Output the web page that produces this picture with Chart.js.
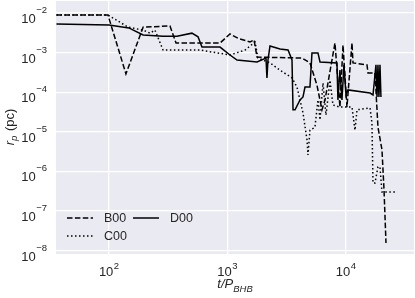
<!DOCTYPE html>
<html>
<head>
<meta charset="utf-8">
<script src="https://cdn.jsdelivr.net/npm/chart.js@4"></script>
<style>
  html, body { margin: 0; padding: 0; background: #fff; }
  #wrap { width: 415px; height: 298px; }
</style>
</head>
<body>
<div id="wrap"><canvas id="rpChart" width="415" height="298"></canvas></div>
<script>
// values (t / P_BHB, r_p in pc)
const b00T = [36, 98, 139, 194, 327, 368, 865, 1050, 1227, 1549, 1675, 1775, 4254, 4966, 5690, 6272, 6653, 8072, 8892, 9438, 10190, 11240, 11460, 15040, 15340, 17570, 18620, 20130, 20940, 21760];
const b00R = [8.9e-3, 8.9e-3, 2.9e-4, 4.4e-3, 4.7e-3, 1.75e-3, 1.75e-3, 2.95e-3, 2.3e-3, 1.85e-3, 2.1e-3, 7.7e-4, 7.3e-4, 5.5e-4, 1.5e-4, 3.6e-5, 6.4e-5, 1.75e-3, 4.2e-5, 1.55e-3, 4.2e-5, 1.75e-3, 5.5e-4, 4.9e-4, 3.05e-4, 3.05e-4, 1.3e-5, 3.5e-6, 3.4e-7, 1.56e-8];

const c00T = [36, 98, 145, 194, 222, 244, 286, 586, 1050, 1406, 1707, 1808, 2284, 2774, 3503, 3858, 4338, 4690, 4778, 4966, 5470, 5803, 6037, 6397, 6778, 7328, 7762, 8892, 10390, 11240, 11910, 12390, 15960, 16560, 16900, 17570, 18620, 19360, 20130, 26920];
const c00R = [8.9e-3, 8.9e-3, 4.4e-3, 3.7e-3, 3.1e-3, 3.7e-3, 1.16e-3, 1.16e-3, 8.7e-4, 1.16e-3, 1.85e-3, 7.3e-4, 5.5e-4, 3.6e-4, 2.3e-4, 1.35e-4, 3.0e-5, 6.2e-6, 2.6e-6, 1.1e-5, 1.3e-5, 6.4e-5, 2.0e-5, 1.7e-4, 2.65e-5, 2.0e-4, 4.75e-5, 4.2e-5, 4.2e-5, 4.2e-5, 1.1e-5, 3.6e-5, 4.0e-5, 1.67e-5, 5.1e-7, 5.1e-7, 1.3e-6, 1.3e-6, 3.0e-7, 3.0e-7];

const d00T = [36, 100, 147, 194, 286, 375, 501, 564, 609, 865, 1050, 1203, 1775, 2113, 2153, 2196, 2284, 2774, 3243, 3503, 3573, 3715, 4093, 4338, 4508, 4966, 5164, 5803, 6037, 8395, 8551, 8892, 9247, 9616, 10000, 10390, 15960, 16900, 17910, 18270, 18620, 18970, 19360, 19730];
const d00R = [5.3e-3, 5.0e-3, 4.2e-3, 2.8e-3, 2.6e-3, 2.6e-3, 3.1e-3, 2.5e-3, 1.38e-3, 1.38e-3, 8.7e-4, 6.5e-4, 5.8e-4, 7.3e-4, 2.3e-4, 6.5e-4, 1.47e-3, 1.23e-3, 1.16e-3, 6.5e-4, 3.6e-5, 3.6e-5, 6.4e-5, 7.6e-5, 1.35e-4, 1.35e-4, 9.8e-4, 9.8e-4, 5.8e-4, 5.5e-4, 6.4e-5, 3.6e-4, 6.4e-5, 4.9e-4, 8.5e-5, 1.14e-4, 9.5e-5, 8.5e-5, 4.9e-4, 7.6e-5, 4.9e-4, 7.6e-5, 4.9e-4, 7.6e-5];

const xTicks = [100, 1000, 10000];
const yTicks = [1e-2, 1e-3, 1e-4, 1e-5, 1e-6, 1e-7, 1e-8];

const seriesNames = ['B00', 'C00', 'D00'];
const seriesDash = [[5.5, 2.4], [1.5, 2.5], []];

const FONT = '"Liberation Sans", Arial, sans-serif';
const BG = '#eaeaf2';

function toPoints(ts, rs) {
    return ts.map((t, i) => ({ x: t, y: rs[i] }));
}

// "10" with a raised exponent, anchored at the right edge or centred
function drawPow(ctx, exp, x, y, align, raise) {
    ctx.font = '13px ' + FONT;
    const wBase = ctx.measureText('10').width;
    ctx.font = '9.5px ' + FONT;
    const wExp = ctx.measureText(exp).width;
    let left;
    if (align === 'right') left = x - wBase - wExp - 0.5;
    else left = x - (wBase + wExp + 0.5) / 2;
    ctx.textAlign = 'left';
    ctx.textBaseline = 'alphabetic';
    ctx.font = '13px ' + FONT;
    ctx.fillText('10', left, y);
    ctx.font = '9.5px ' + FONT;
    ctx.fillText(exp, left + wBase + 0.5, y - raise);
}

const decorations = {
    id: 'decorations',
    beforeDraw(chart) {
        const { ctx, chartArea: a } = chart;
        ctx.save();
        ctx.fillStyle = BG;
        ctx.fillRect(a.left, a.top, a.right - a.left, a.bottom - a.top);
        ctx.restore();
    },
    afterDraw(chart) {
        const { ctx, chartArea: a } = chart;
        const xs = chart.scales.x;
        const ys = chart.scales.y;
        ctx.save();
        ctx.fillStyle = '#262626';

        // y tick labels
        yTicks.forEach(v => {
            const py = ys.getPixelForValue(v);
            const exp = '\u2212' + Math.round(-Math.log10(v));
            drawPow(ctx, exp, 47, py + 10, 'right', 10);
        });

        // x tick labels
        xTicks.forEach(v => {
            const px = xs.getPixelForValue(v);
            drawPow(ctx, String(Math.round(Math.log10(v))), px, 276, 'center', 7);
        });

        // x axis title: t/P_BHB
        ctx.font = 'italic 13px ' + FONT;
        const wMain = ctx.measureText('t/P').width;
        ctx.font = 'italic 9.5px ' + FONT;
        const wSub = ctx.measureText('BHB').width;
        const cx = (a.left + a.right) / 2;
        let lx = cx - (wMain + wSub) / 2;
        ctx.textAlign = 'left';
        ctx.font = 'italic 13px ' + FONT;
        ctx.fillText('t/P', lx, 288);
        ctx.font = 'italic 9.5px ' + FONT;
        ctx.fillText('BHB', lx + wMain, 292);

        // y axis title: r_p (pc)
        ctx.save();
        ctx.translate(14, (a.top + a.bottom) / 2);
        ctx.rotate(-Math.PI / 2);
        ctx.font = 'italic 13px ' + FONT;
        const wr = ctx.measureText('r').width;
        ctx.font = 'italic 9.5px ' + FONT;
        const wp = ctx.measureText('p').width;
        ctx.font = '13px ' + FONT;
        const wpc = ctx.measureText(' (pc)').width;
        let tx = -(wr + wp + wpc) / 2;
        ctx.font = 'italic 13px ' + FONT;
        ctx.fillText('r', tx, 0);
        ctx.font = 'italic 9.5px ' + FONT;
        ctx.fillText('p', tx + wr, 3);
        ctx.font = '13px ' + FONT;
        ctx.fillText(' (pc)', tx + wr + wp + 1, 0);
        ctx.restore();

        // legend (two columns, inside lower left)
        const entries = [
            { i: 0, x: 67, y: 218 },
            { i: 1, x: 67, y: 236 },
            { i: 2, x: 133, y: 218 }
        ];
        entries.forEach(e => {
            ctx.strokeStyle = '#000';
            ctx.lineWidth = 1.5;
            ctx.setLineDash(seriesDash[e.i]);
            ctx.beginPath();
            ctx.moveTo(e.x, e.y);
            ctx.lineTo(e.x + 26, e.y);
            ctx.stroke();
            ctx.setLineDash([]);
            ctx.fillStyle = '#262626';
            ctx.font = '12.5px ' + FONT;
            ctx.textBaseline = 'middle';
            ctx.fillText(seriesNames[e.i], e.x + 37, e.y + 0.5);
        });
        ctx.restore();
    }
};

const seriesT = [b00T, c00T, d00T];
const seriesR = [b00R, c00R, d00R];

new Chart(document.getElementById('rpChart'), {
    type: 'line',
    data: {
        datasets: seriesNames.map((name, i) => ({
            label: name,
            data: toPoints(seriesT[i], seriesR[i]),
            borderColor: '#000',
            borderWidth: 1.5,
            borderDash: seriesDash[i],
            pointRadius: 0,
            fill: false,
            tension: 0
        }))
    },
    options: {
        responsive: false,
        animation: false,
        devicePixelRatio: 1,
        layout: { padding: { left: 56, right: 1, top: 1, bottom: 44 } },
        plugins: {
            legend: { display: false },
            tooltip: { enabled: false }
        },
        scales: {
            x: {
                type: 'logarithmic',
                min: 35.7,
                max: 37500,
                afterBuildTicks: scale => { scale.ticks = xTicks.map(v => ({ value: v })); },
                ticks: { display: false },
                grid: { color: '#fff', lineWidth: 1.3, drawTicks: false },
                border: { display: false }
            },
            y: {
                type: 'logarithmic',
                min: 8.2e-9,
                max: 0.0201,
                afterBuildTicks: scale => { scale.ticks = yTicks.map(v => ({ value: v })); },
                ticks: { display: false },
                grid: { color: '#fff', lineWidth: 1.3, drawTicks: false },
                border: { display: false }
            }
        }
    },
    plugins: [decorations]
});
</script>
</body>
</html>
